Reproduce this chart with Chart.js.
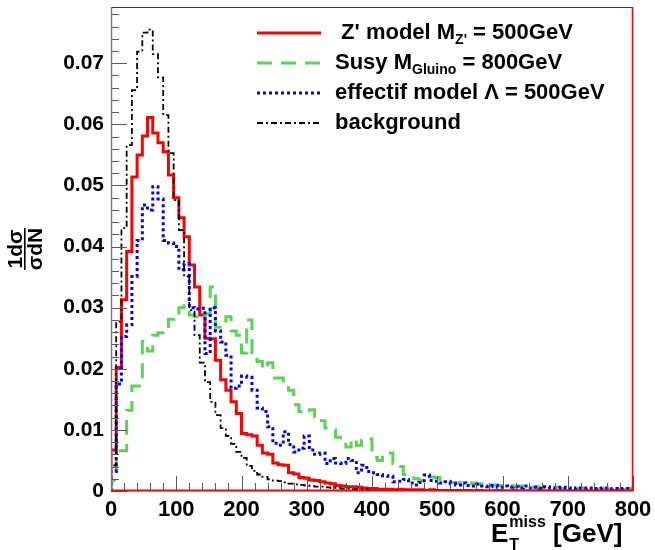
<!DOCTYPE html>
<html>
<head>
<meta charset="utf-8">
<script src="https://cdn.jsdelivr.net/npm/chart.js@4.4.0/dist/chart.umd.min.js"></script>
<style>
  html, body { margin: 0; padding: 0; background: #ffffff; }
  #wrap { width: 655px; height: 550px; position: relative; }
</style>
</head>
<body>
<div id="wrap"><canvas id="c" width="655" height="550"></canvas></div>
<script>
// Missing transverse energy spectra, normalised, 8 GeV bins from 0 to 800 GeV
const BIN_WIDTH = 8;
const X_MIN = 0, X_MAX = 800;
const Y_MIN = 0, Y_MAX = 0.0792;

const xTickStep = 20;      // minor ticks every 20 GeV, labels every 100
const xLabelStep = 100;
const yTickStep = 0.002;   // minor ticks every 0.002, labels every 0.01
const yLabelStep = 0.01;

const seriesNames = ["Z' model", "Susy", "effectif model", "background"];

const zprime = [
  0.0067, 0.0202, 0.0313, 0.0392, 0.0514, 0.0550, 0.0581, 0.0611, 0.0586, 0.0570,
  0.0555, 0.0517, 0.0480, 0.0447, 0.0416, 0.0370, 0.0334, 0.0288, 0.0250, 0.0249,
  0.0214, 0.0182, 0.0165, 0.0146, 0.0127, 0.0094, 0.0092, 0.0090, 0.0075, 0.0062,
  0.0060, 0.0046, 0.0043, 0.0042, 0.0030, 0.0028, 0.0022, 0.0021, 0.0018, 0.0017,
  0.0015, 0.0013, 0.0012, 0.0009, 0.0008, 0.0007, 0.0007, 0.0006, 0.0005, 0.0004,
  0.0004, 0.0003, 0.0003, 0.0003, 0.0002, 0.0003, 0.0002, 0.0002, 0.0002, 0.0002,
  0.0001, 0.0002, 0.0001, 0.0001, 0.0001, 0.0001, 0.0001, 0.0000, 0.0001, 0.0000,
  0.0001, 0.0000, 0.0000, 0.0000, 0.0001, 0.0000, 0.0000, 0.0000, 0.0000, 0.0000,
  0.0000, 0.0000, 0.0000, 0.0000, 0.0000, 0.0000, 0.0000, 0.0000, 0.0000, 0.0000,
  0.0000, 0.0000, 0.0000, 0.0000, 0.0000, 0.0000, 0.0000, 0.0000, 0.0000, 0.0000
];

const susy = [
  0.0017, 0.0066, 0.0066, 0.0132, 0.0172, 0.0172, 0.0245, 0.0229, 0.0255, 0.0259,
  0.0262, 0.0281, 0.0283, 0.0300, 0.0303, 0.0288, 0.0285, 0.0283, 0.0290, 0.0334,
  0.0268, 0.0268, 0.0285, 0.0262, 0.0255, 0.0226, 0.0280, 0.0215, 0.0212, 0.0200,
  0.0210, 0.0185, 0.0185, 0.0180, 0.0165, 0.0141, 0.0130, 0.0128, 0.0133, 0.0121,
  0.0115, 0.0103, 0.0100, 0.0088, 0.0087, 0.0072, 0.0085, 0.0075, 0.0083, 0.0085,
  0.0055, 0.0050, 0.0058, 0.0062, 0.0045, 0.0040, 0.0027, 0.0027, 0.0020, 0.0017,
  0.0017, 0.0023, 0.0022, 0.0018, 0.0016, 0.0014, 0.0013, 0.0014, 0.0012, 0.0013,
  0.0012, 0.0010, 0.0008, 0.0010, 0.0009, 0.0008, 0.0009, 0.0007, 0.0008, 0.0007,
  0.0006, 0.0007, 0.0005, 0.0006, 0.0005, 0.0006, 0.0004, 0.0005, 0.0005, 0.0004,
  0.0005, 0.0004, 0.0003, 0.0004, 0.0004, 0.0003, 0.0004, 0.0003, 0.0003, 0.0004
];

const effective = [
  0.0032, 0.0175, 0.0253, 0.0272, 0.0351, 0.0410, 0.0468, 0.0460, 0.0498, 0.0478,
  0.0410, 0.0406, 0.0400, 0.0362, 0.0372, 0.0300, 0.0298, 0.0299, 0.0225, 0.0300,
  0.0262, 0.0244, 0.0222, 0.0168, 0.0172, 0.0188, 0.0186, 0.0165, 0.0136, 0.0130,
  0.0105, 0.0078, 0.0075, 0.0097, 0.0076, 0.0064, 0.0070, 0.0090, 0.0067, 0.0060,
  0.0062, 0.0045, 0.0053, 0.0046, 0.0045, 0.0053, 0.0050, 0.0030, 0.0042, 0.0032,
  0.0030, 0.0027, 0.0025, 0.0024, 0.0015, 0.0016, 0.0019, 0.0013, 0.0010, 0.0014,
  0.0026, 0.0017, 0.0016, 0.0013, 0.0015, 0.0012, 0.0010, 0.0013, 0.0009, 0.0008,
  0.0011, 0.0008, 0.0007, 0.0009, 0.0006, 0.0008, 0.0006, 0.0007, 0.0005, 0.0008,
  0.0005, 0.0006, 0.0004, 0.0007, 0.0005, 0.0004, 0.0006, 0.0005, 0.0003, 0.0005,
  0.0004, 0.0005, 0.0003, 0.0004, 0.0005, 0.0003, 0.0004, 0.0003, 0.0004, 0.0003
];

const background = [
  0.0042, 0.0277, 0.0430, 0.0566, 0.0656, 0.0719, 0.0750, 0.0755, 0.0715, 0.0677,
  0.0615, 0.0553, 0.0476, 0.0427, 0.0351, 0.0296, 0.0255, 0.0210, 0.0178, 0.0146,
  0.0124, 0.0103, 0.0090, 0.0077, 0.0064, 0.0054, 0.0041, 0.0033, 0.0027, 0.0023,
  0.0019, 0.0017, 0.0016, 0.0014, 0.0012, 0.0011, 0.0010, 0.0009, 0.0008, 0.0007,
  0.0007, 0.0006, 0.0005, 0.0005, 0.0004, 0.0004, 0.0003, 0.0003, 0.0003, 0.0002,
  0.0002, 0.0002, 0.0002, 0.0001, 0.0002, 0.0001, 0.0001, 0.0001, 0.0001, 0.0001,
  0.0001, 0.0001, 0.0001, 0.0001, 0.0000, 0.0001, 0.0001, 0.0000, 0.0001, 0.0000,
  0.0001, 0.0000, 0.0000, 0.0001, 0.0000, 0.0000, 0.0000, 0.0001, 0.0000, 0.0000,
  0.0000, 0.0000, 0.0000, 0.0000, 0.0000, 0.0000, 0.0000, 0.0000, 0.0000, 0.0000,
  0.0000, 0.0000, 0.0000, 0.0000, 0.0000, 0.0000, 0.0000, 0.0000, 0.0000, 0.0000
];

// Bin low edges in GeV
const binEdges = Array.from({ length: zprime.length + 1 }, (_, i) => X_MIN + i * BIN_WIDTH);

// Histogram outline: rise from zero at the first edge, one point per bin low edge,
// closing at the upper edge of the last bin.
function histogramPoints(values) {
  const pts = [{ x: binEdges[0], y: 0 }];
  values.forEach((v, i) => pts.push({ x: binEdges[i], y: v }));
  pts.push({ x: binEdges[values.length], y: values[values.length - 1] });
  return pts;
}

const FONT = '"Liberation Sans", Arial, Helvetica, sans-serif';

function lineDataset(label, values, color, width, dash) {
  return {
    label,
    data: histogramPoints(values),
    borderColor: color,
    borderWidth: width,
    borderDash: dash,
    borderCapStyle: 'butt',
    borderJoinStyle: 'miter',
    stepped: 'before',
    pointRadius: 0,
    fill: false,
    tension: 0
  };
}

const datasets = [
  lineDataset(seriesNames[3], background, '#000000', 1.8, [6, 3, 2, 3]),
  lineDataset(seriesNames[2], effective, '#0000ff', 3, [3, 3]),
  lineDataset(seriesNames[1], susy, '#59d454', 3, [15, 9]),
  lineDataset(seriesNames[0], zprime, '#ff0000', 3, [])
];

// Legend rows: text pieces, with subscripts where needed
const legendRows = [
  { ds: 3, parts: [{ t: " Z' model M" }, { t: "Z'", sub: true }, { t: " = 500GeV" }] },
  { ds: 2, parts: [{ t: "Susy M" }, { t: "Gluino", sub: true }, { t: " = 800GeV" }] },
  { ds: 1, parts: [{ t: "effectif model \u039B = 500GeV" }] },
  { ds: 0, parts: [{ t: "background" }] }
];

function isMultiple(v, step) {
  const r = v / step;
  return Math.abs(r - Math.round(r)) < 1e-6;
}

function drawParts(ctx, x, y, parts, size, subSize) {
  let cx = x;
  parts.forEach(p => {
    if (p.sub) {
      ctx.font = `bold ${subSize}px ${FONT}`;
      ctx.fillText(p.t, cx, y + 7);
    } else {
      ctx.font = `bold ${size}px ${FONT}`;
      ctx.fillText(p.t, cx, y);
    }
    cx += ctx.measureText(p.t).width;
  });
  return cx;
}

const frameAndTicks = {
  id: 'frameAndTicks',
  afterDatasetsDraw(chart) {
    const ctx = chart.ctx;
    const { left, right, top, bottom } = chart.chartArea;
    const xs = chart.scales.x, ys = chart.scales.y;
    ctx.save();
    // ticks inside the frame
    ctx.strokeStyle = '#5a5a5a';
    ctx.lineWidth = 1;
    ys.ticks.forEach(t => {
      if (t.value > Y_MAX - 1e-9) return;
      const p = Math.round(ys.getPixelForValue(t.value)) + 0.5;
      const len = isMultiple(t.value, yLabelStep) ? 16 : 8;
      ctx.beginPath(); ctx.moveTo(left, p); ctx.lineTo(left + len, p); ctx.stroke();
    });
    xs.ticks.forEach(t => {
      const p = Math.round(xs.getPixelForValue(t.value)) + 0.5;
      const len = isMultiple(t.value, xLabelStep) ? 15 : 8;
      ctx.beginPath(); ctx.moveTo(p, bottom); ctx.lineTo(p, bottom - len); ctx.stroke();
    });
    // frame
    ctx.strokeStyle = '#333333';
    ctx.lineWidth = 1;
    ctx.beginPath(); ctx.moveTo(left, top + 0.5); ctx.lineTo(right, top + 0.5); ctx.stroke();
    ctx.strokeStyle = '#808080';
    ctx.lineWidth = 1.5;
    ctx.beginPath(); ctx.moveTo(left + 0.5, top); ctx.lineTo(left + 0.5, bottom); ctx.stroke();
    ctx.strokeStyle = '#ff0000';
    ctx.lineWidth = 1.5;
    ctx.beginPath(); ctx.moveTo(right - 0.5, top); ctx.lineTo(right - 0.5, bottom); ctx.stroke();
    ctx.lineWidth = 2;
    ctx.beginPath(); ctx.moveTo(left, bottom - 0.5); ctx.lineTo(right, bottom - 0.5); ctx.stroke();
    ctx.restore();
  },
  afterDraw(chart) {
    const ctx = chart.ctx;
    ctx.save();
    ctx.fillStyle = '#000000';
    ctx.textBaseline = 'middle';
    ctx.textAlign = 'left';

    // legend
    const rowY = [33, 63, 93, 123];
    legendRows.forEach((row, i) => {
      const ds = chart.data.datasets[row.ds];
      const y = rowY[i];
      ctx.save();
      ctx.strokeStyle = ds.borderColor;
      ctx.lineWidth = ds.borderWidth;
      ctx.setLineDash(ds.borderDash || []);
      ctx.lineCap = 'butt';
      ctx.beginPath(); ctx.moveTo(257, y); ctx.lineTo(321, y); ctx.stroke();
      ctx.restore();
      drawParts(ctx, 335, y, row.parts, 22, 14);
    });

    // x-axis title: E_T^miss [GeV]
    ctx.textBaseline = 'alphabetic';
    ctx.font = `bold 26px ${FONT}`;
    const ex = 491, ey = 542;
    ctx.fillText('E', ex, ey);
    const eW = ctx.measureText('E').width;
    ctx.font = `bold 16px ${FONT}`;
    ctx.fillText('miss', ex + eW + 1, ey - 15);
    const mW = ctx.measureText('miss').width;
    ctx.fillText('T', ex + eW + 1, ey + 8);
    ctx.font = `bold 26px ${FONT}`;
    ctx.fillText(' [GeV]', ex + eW + 1 + mW, ey);

    // y-axis title: fraction 1dσ over σdN, rotated
    ctx.translate(25, 249);
    ctx.rotate(-Math.PI / 2);
    ctx.textAlign = 'center';
    ctx.font = `bold 21px ${FONT}`;
    ctx.fillText('1d\u03C3', 0, -3);
    ctx.fillText('\u03C3dN', 0, 17);
    ctx.fillRect(-21, -1, 42, 1.6);
    ctx.restore();
  }
};

new Chart(document.getElementById('c'), {
  type: 'line',
  data: { datasets },
  options: {
    responsive: false,
    devicePixelRatio: 1,
    animation: false,
    layout: { padding: { top: 7, right: 22, left: 0, bottom: 0 } },
    plugins: { legend: { display: false }, tooltip: { enabled: false } },
    scales: {
      x: {
        type: 'linear',
        min: X_MIN, max: X_MAX,
        grid: { display: false, drawTicks: false },
        border: { display: false },
        afterFit(scale) {
          scale.height = 59;
          scale.paddingLeft = 0;
          scale.paddingRight = 0;
        },
        ticks: {
          stepSize: xTickStep,
          autoSkip: false,
          maxRotation: 0,
          includeBounds: false,
          padding: 6,
          color: '#000000',
          font: { family: FONT, size: 22, weight: 'bold' },
          callback: v => isMultiple(v, xLabelStep) ? String(v) : ''
        }
      },
      y: {
        type: 'linear',
        min: Y_MIN, max: Y_MAX,
        grid: { display: false, drawTicks: false },
        border: { display: false },
        afterFit(scale) {
          scale.width = 111;
          scale.paddingTop = 0;
          scale.paddingBottom = 0;
        },
        ticks: {
          stepSize: yTickStep,
          autoSkip: false,
          includeBounds: false,
          padding: 7,
          color: '#000000',
          font: { family: FONT, size: 21, weight: 'bold' },
          callback: v => isMultiple(v, yLabelStep) ? (Math.round(v * 100) / 100).toString() : ''
        }
      }
    }
  },
  plugins: [frameAndTicks]
});
</script>
</body>
</html>
